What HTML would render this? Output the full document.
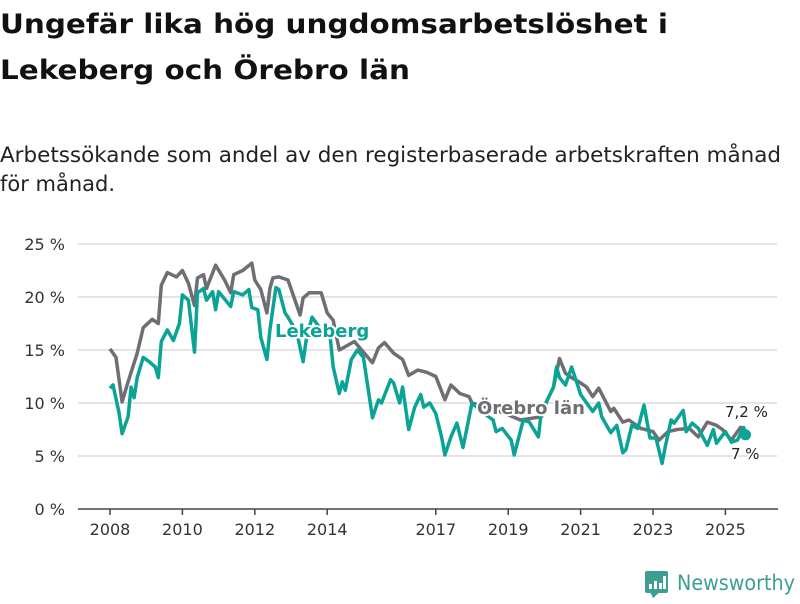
<!DOCTYPE html>
<html><head><meta charset="utf-8"><style>
body{margin:0;background:#fff;width:800px;height:600px;overflow:hidden;font-family:"DejaVu Sans",sans-serif;}
</style></head><body>
<svg width="800" height="600" viewBox="0 0 800 600" style="font-family:'DejaVu Sans',sans-serif">
<text x="0" y="33" font-size="27" font-weight="bold" fill="#111" textLength="668" lengthAdjust="spacingAndGlyphs">Ungefär lika hög ungdomsarbetslöshet i</text>
<text x="0" y="79" font-size="27" font-weight="bold" fill="#111" textLength="410" lengthAdjust="spacingAndGlyphs">Lekeberg och Örebro län</text>
<text x="0" y="162" font-size="21" fill="#222" textLength="781" lengthAdjust="spacingAndGlyphs">Arbetssökande som andel av den registerbaserade arbetskraften månad</text>
<text x="0" y="191" font-size="21" fill="#222">för månad.</text>
<g id="grid"></g><g id="xaxis"></g><g id="series"></g><g id="labels"></g>
<g>
<rect x="645" y="571" width="23" height="22" rx="2" fill="#3d9e94"/>
<polygon points="650,592 660,592 653,598" fill="#3d9e94"/>
<rect x="649" y="584" width="3" height="5" fill="#fff"/><rect x="654" y="581" width="3" height="8" fill="#fff"/><rect x="659" y="583" width="3" height="6" fill="#fff"/><rect x="663" y="576" width="3" height="13" fill="#fff"/>
<text x="677" y="590" font-size="21" fill="#3d9e94" textLength="118" lengthAdjust="spacingAndGlyphs">Newsworthy</text>
</g>
</svg>
<script>
const yTicks=[0,5,10,15,20,25];
const xTickYears=[2008,2010,2012,2014,2017,2019,2021,2023,2025];
const orebroMonths=[0,2,4,6,9,11,14,16,17,19,22,24,26,28,29,31,32,35,38,40,41,44,47,48,50,52,53,54,56,59,63,64,66,70,72,74,76,81,87,89,91,94,97,99,102,105,108,111,113,116,119,120,126,131,136,143,145,147,149,151,153,156,158,160,162,166,167,170,172,176,180,182,185,188,192,195,198,201,203,206,209,211];
const orebroValues=[15.1,14.3,10.1,12,14.7,17.1,17.9,17.5,21.1,22.3,21.9,22.5,21.3,19.2,21.8,22.1,20.8,23,21.6,20.4,22.1,22.5,23.2,21.6,20.7,18.5,20.8,21.8,21.9,21.6,18.3,19.9,20.4,20.4,18.5,17.8,15,15.8,13.8,15.2,15.7,14.7,14.1,12.6,13.1,12.9,12.5,10.3,11.7,10.9,10.6,10,9.5,9.0,8.4,8.7,10.3,11.5,14.2,12.8,12.4,11.9,11.5,10.6,11.4,9.2,9.5,8.2,8.4,7.6,7.3,6.5,7.3,7.5,7.6,6.8,8.2,7.9,7.5,6.5,7.7,7.2];
const lekebergMonths=[0,1,3,4,6,7,8,9,11,13,15,16,17,19,21,23,24,26,28,29,31,32,34,35,36,40,41,44,46,47,49,50,52,53,55,56,58,59,62,64,65,67,70,73,74,76,77,78,80,82,84,87,89,90,93,94,96,97,99,101,103,104,106,108,110,111,113,115,117,120,122,124,127,128,130,133,134,137,139,142,143,145,147,148,149,151,153,155,156,160,162,163,166,168,170,171,173,175,177,179,181,183,184,186,187,190,191,193,195,198,200,201,204,206,208,210,211];
const lekebergValues=[11.4,11.7,9.1,7.1,8.7,11.5,10.5,12.4,14.3,13.9,13.4,12.4,15.8,16.9,15.9,17.5,20.2,19.7,14.8,20.4,20.8,19.7,20.5,18.8,20.5,19.1,20.5,20.2,20.7,19,18.8,16.2,14.1,16.9,20.9,20.7,18.5,18.1,16.6,13.9,15.9,18.1,16.9,16.2,13.4,10.9,12,11.2,14.1,15,14.3,8.6,10.3,10,12.2,11.9,10,11.5,7.5,9.6,10.8,9.6,10,9,6.7,5.1,6.8,8.1,5.8,10,9.5,9.0,8.4,7.3,7.6,6.5,5.1,8.4,8.2,6.8,9.3,10.3,11.5,13.4,12.4,11.7,13.4,11.7,10.8,9.2,10,8.7,7.2,7.9,5.3,5.6,7.9,7.6,9.8,6.7,6.7,4.3,5.8,8.4,8.1,9.3,7.3,8.1,7.6,6.0,7.5,6.2,7.3,6.3,6.5,7.7,7.0];
const NS='http://www.w3.org/2000/svg';
const X0=110,PXM=36.2/12,Y0=509,PXV=10.6;
function xm(m){return X0+m*PXM;}
function xy(yr){return xm((yr-2008)*12);}
function yv(v){return Y0-v*PXV;}
function mk(tag,attrs,parent){const e=document.createElementNS(NS,tag);for(const k in attrs)e.setAttribute(k,attrs[k]);parent.appendChild(e);return e;}
const grid=document.getElementById('grid');
yTicks.forEach(t=>{
 if(t>0){const l=mk('line',{x1:78,x2:777,y1:yv(t),y2:yv(t),stroke:'#dcdcdc','stroke-width':1.5},grid);
 
 }
 const tx=mk('text',{x:65,y:yv(t)+6,'font-size':16,fill:'#333','text-anchor':'end'},grid);
 tx.textContent=t+' %';
 
 
});
const xa=document.getElementById('xaxis');
const base=mk('line',{x1:78,x2:778,y1:Y0,y2:Y0,stroke:'#444','stroke-width':1.5},xa);


xTickYears.forEach(yr=>{
 const x=xy(yr);
 const tk=mk('line',{x1:x,x2:x,y1:Y0,y2:Y0+6,stroke:'#444','stroke-width':1.5},xa);
 
 
 const tx=mk('text',{x:x,y:Y0+26,'font-size':16,fill:'#333','text-anchor':'middle'},xa);
 tx.textContent=yr;
 
 
});
const s=document.getElementById('series');
function line(ms,vs,col,name){
 const p=mk('polyline',{points:ms.map((m,i)=>xm(m).toFixed(1)+','+yv(vs[i]).toFixed(1)).join(' '),fill:'none',stroke:col,'stroke-width':3.5,'stroke-linejoin':'round'},s);
 
 
}
line(orebroMonths,orebroValues,'#6e6e73','orebro-lan-line');
line(lekebergMonths,lekebergValues,'#0aa396','lekeberg-line');
const lm=lekebergMonths[lekebergMonths.length-1],lv=lekebergValues[lekebergValues.length-1];
const dot=mk('circle',{cx:xm(lm)-1,cy:yv(lv),r:5.5,fill:'#0aa396'},s);


const lb=document.getElementById('labels');
function lab(x,y,txt,col,size,bold,name){
 const t=mk('text',{x:x,y:y,'font-size':size,fill:col,'font-weight':bold?'bold':'normal',stroke:'#fff','stroke-width':4,'paint-order':'stroke','stroke-linejoin':'round'},lb);
 t.textContent=txt;
 
 
}
lab(275,337,'Lekeberg','#0aa396',18,true,'lekeberg-series-label');
lab(477,414,'Örebro län','#6e6e73',18,true,'orebro-series-label');
lab(725,417,'7,2 %','#222',15,false,'orebro-end-value');
lab(731,459,'7 %','#222',15,false,'lekeberg-end-value');
</script>
</body></html>
